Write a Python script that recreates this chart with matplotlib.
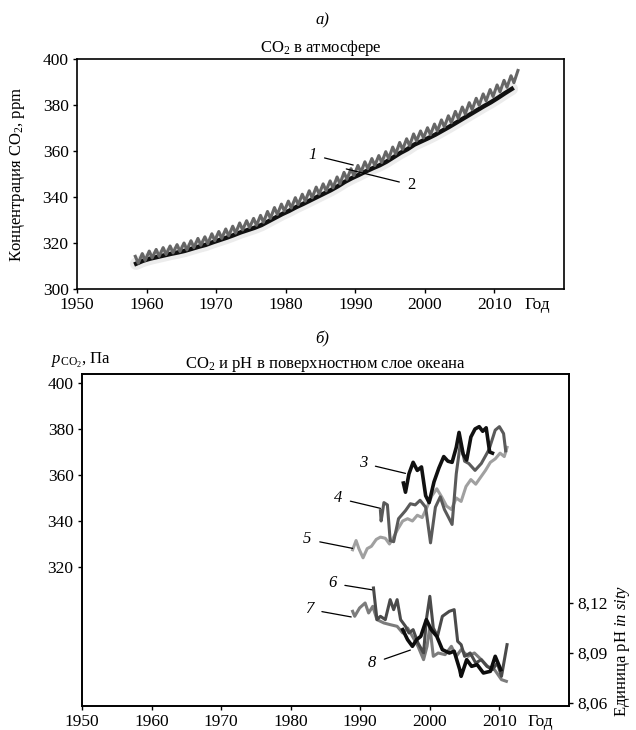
import numpy as np
import matplotlib
matplotlib.use('Agg')
import matplotlib.pyplot as plt

plt.rcParams['font.family'] = ['Liberation Serif', 'DejaVu Serif']
plt.rcParams['mathtext.fontset'] = 'custom'
plt.rcParams['mathtext.rm'] = 'Liberation Serif'
plt.rcParams['mathtext.it'] = 'Liberation Serif:italic'

# --- panel a: atmospheric CO2 (ppm) ---
years_atm = np.arange(1958, 2014)
# curve 1: seasonal highs and lows per year
co2_1_high = [314.2, 315.4, 316.5, 317.2, 318.0, 318.7, 319.3, 320.0, 321.0, 322.0,
              322.7, 324.0, 325.0, 326.1, 327.3, 328.7, 329.7, 330.7, 332.0, 333.7,
              335.4, 336.9, 338.2, 339.7, 341.2, 342.7, 344.3, 345.7, 347.0, 348.7,
              350.7, 352.3, 353.7, 355.3, 356.7, 358.0, 359.7, 361.7, 363.7, 365.3,
              367.4, 368.7, 370.1, 371.7, 373.5, 375.3, 377.2, 379.1, 381.0, 382.9,
              384.8, 386.7, 388.7, 390.7, 392.7, 395.0]
co2_1_low = [311.2, 312.4, 313.5, 314.2, 315.0, 315.7, 316.3, 317.0, 318.0, 319.0,
             319.7, 321.0, 322.0, 323.1, 324.3, 325.7, 326.7, 327.7, 329.0, 330.7,
             332.4, 333.9, 335.2, 336.7, 338.2, 339.7, 341.3, 342.7, 344.0, 345.7,
             347.7, 349.3, 350.7, 352.3, 353.7, 355.0, 356.7, 358.7, 360.7, 362.3,
             364.4, 365.7, 367.1, 368.7, 370.5, 372.3, 374.2, 376.1, 378.0, 379.9,
             381.8, 383.7, 385.7, 387.7, 389.7, 392.0]
# curve 2: annual values
years_2 = np.arange(1958, 2013)
co2_2 = [311.0, 312.3, 313.2, 313.9, 314.6, 315.3, 315.9, 316.6, 317.5, 318.4,
         319.2, 320.3, 321.3, 322.3, 323.4, 324.6, 325.6, 326.6, 327.8, 329.4,
         331.0, 332.6, 334.0, 335.6, 337.0, 338.5, 340.0, 341.5, 343.0, 344.7,
         346.6, 348.2, 349.6, 351.1, 352.5, 353.8, 355.4, 357.3, 359.2, 360.8,
         362.8, 364.2, 365.6, 367.1, 368.8, 370.5, 372.3, 374.1, 375.9, 377.7,
         379.5, 381.2, 383.1, 385.1, 387.0]

# --- panel b: ocean pCO2 (Pa) and pH ---
yr3 = [1996.2, 1996.5, 1997.0, 1997.6, 1998.2, 1998.8, 1999.4, 1999.9, 2000.6, 2001.3,
       2002.0, 2002.6, 2003.2, 2003.8, 2004.2, 2004.8, 2005.3, 2005.9, 2006.5, 2007.1,
       2007.6, 2008.1, 2008.6, 2009.0]
pco2_3 = [356.5, 352.5, 360.5, 365.5, 362.0, 363.5, 351.0, 348.0, 357.0, 363.0,
          368.0, 366.0, 365.5, 372.0, 378.5, 369.0, 366.5, 376.5, 380.0, 381.0,
          379.0, 380.5, 370.0, 369.5]
yr4 = [1992.9, 1993.0, 1993.4, 1993.9, 1994.3, 1994.8, 1995.5, 1996.5, 1997.2, 1997.9,
       1998.6, 1999.4, 2000.1, 2000.8, 2001.5, 2002.1, 2002.7, 2003.2, 2003.8, 2004.4,
       2005.0, 2005.6, 2006.5, 2007.4, 2008.5, 2009.4, 2010.0, 2010.6, 2010.9]
pco2_4 = [344.5, 340.0, 348.0, 347.0, 331.5, 331.0, 341.0, 344.5, 347.5, 347.0,
          349.0, 346.0, 330.5, 346.0, 350.5, 345.0, 341.5, 338.5, 360.5, 374.0,
          366.0, 365.0, 362.0, 365.0, 371.0, 379.5, 381.0, 378.0, 370.5]
yr5 = [1988.9, 1989.4, 1989.8, 1990.4, 1991.0, 1991.6, 1992.3, 1992.9, 1993.6, 1994.2,
       1994.8, 1995.4, 1996.1, 1996.8, 1997.5, 1998.2, 1998.9, 1999.6, 2000.3, 2001.0,
       2001.7, 2002.4, 2003.1, 2003.8, 2004.5, 2005.2, 2005.9, 2006.6, 2007.3, 2008.0,
       2008.7, 2009.4, 2010.1, 2010.7, 2011.1]
pco2_5 = [327.5, 331.5, 328.0, 324.0, 328.0, 329.0, 332.0, 333.0, 332.5, 330.0,
          333.0, 336.5, 340.0, 341.0, 340.0, 342.5, 341.5, 346.0, 351.0, 354.0,
          350.5, 346.5, 345.0, 350.0, 348.5, 355.0, 358.0, 356.0, 359.0, 362.0,
          365.5, 367.0, 369.5, 368.0, 372.0]

yr6 = [1991.9, 1992.4, 1992.9, 1993.6, 1994.3, 1994.8, 1995.3, 1995.8, 1996.5, 1997.0,
       1997.6, 1998.3, 1999.1, 1999.5, 2000.0, 2000.5, 2001.1, 2001.8, 2002.8, 2003.5,
       2004.0, 2004.5, 2005.0, 2005.8, 2006.6, 2007.4, 2008.2, 2009.0, 2009.7, 2010.3,
       2011.1]
ph_6 = [8.129, 8.110, 8.112, 8.110, 8.122, 8.116, 8.122, 8.110, 8.106, 8.102,
        8.104, 8.096, 8.090, 8.110, 8.124, 8.105, 8.100, 8.112, 8.115, 8.116,
        8.097, 8.095, 8.088, 8.090, 8.084, 8.086, 8.082, 8.080, 8.084, 8.076,
        8.095]
yr7 = [1988.9, 1989.2, 1989.9, 1990.7, 1991.2, 1991.8, 1992.4, 1993.4, 1994.3, 1995.3,
       1996.1, 1996.8, 1997.5, 1998.3, 1999.1, 1999.6, 2000.0, 2000.5, 2001.2, 2002.2,
       2003.1, 2003.8, 2004.5, 2005.5, 2006.4, 2007.4, 2008.3, 2009.3, 2010.3, 2011.0]
ph_7 = [8.115, 8.112, 8.117, 8.120, 8.114, 8.118, 8.110, 8.108, 8.107, 8.106,
        8.102, 8.105, 8.100, 8.094, 8.086, 8.094, 8.106, 8.088, 8.090, 8.089,
        8.094, 8.088, 8.092, 8.088, 8.090, 8.086, 8.082, 8.080, 8.074, 8.073]
yr8 = [1996.1, 1996.8, 1997.5, 1998.1, 1998.7, 1999.5, 2000.2, 2001.0, 2001.8, 2002.8,
       2003.5, 2004.3, 2004.5, 2005.3, 2006.0, 2006.8, 2007.7, 2008.7, 2009.4, 2010.2]
ph_8 = [8.104, 8.098, 8.094, 8.098, 8.100, 8.110, 8.104, 8.100, 8.092, 8.090,
        8.091, 8.080, 8.076, 8.086, 8.082, 8.083, 8.078, 8.079, 8.088, 8.080]

fig = plt.figure(figsize=(6.36, 7.3), dpi=100)
tick_fs = 12.5
txt_fs = 12

# ---------- top panel ----------
ax = fig.add_axes([0.1211, 0.6041, 0.7657, 0.3151])
x1 = np.column_stack([years_atm + 0.38, years_atm + 0.8]).ravel()[:-1]
y1 = np.column_stack([co2_1_high, co2_1_low]).ravel()[:-1]
ax.plot(years_2 + 0.5, co2_2, color='#ececec', lw=9, solid_capstyle='round', zorder=1)
ax.plot(years_2 + 0.5, co2_2, color='#111111', lw=3.2, zorder=2)
ax.plot(x1, y1, color='#666666', lw=2.2, zorder=3)
ax.set_xlim(1950, 2020)
ax.set_ylim(300, 400)
ax.set_xticks(range(1950, 2011, 10))
ax.set_yticks(range(300, 401, 20))
ax.tick_params(direction='out', length=3, width=1, labelsize=tick_fs, pad=3)
for s in ax.spines.values():
    s.set_linewidth(1.2)
ax.set_ylabel('Концентрация CO$_2$, ppm', fontsize=txt_fs)
ax.yaxis.set_label_coords(-0.103, 0.5)
ax.text(2016.1, -0.07, 'Год', transform=ax.get_xaxis_transform(),
        ha='center', va='center', fontsize=tick_fs)
ax.set_title('CO$_2$ в атмосфере', fontsize=txt_fs, pad=5)
fig.text(0.507, 0.972, 'а)', style='italic', ha='center', va='center', fontsize=txt_fs)

ax.annotate('1', xy=(1989.7, 353.9), xytext=(1983.8, 358.3), fontsize=txt_fs, style='italic',
            ha='center', va='center',
            arrowprops=dict(arrowstyle='-', color='black', lw=0.9, shrinkA=4, shrinkB=0))
ax.annotate('2', xy=(1988.7, 352.2), xytext=(1998.1, 345.2), fontsize=txt_fs,
            ha='center', va='center',
            arrowprops=dict(arrowstyle='-', color='black', lw=0.9, shrinkA=4, shrinkB=0))

# ---------- bottom panel ----------
axb = fig.add_axes([0.1289, 0.0329, 0.7657, 0.4548])
axb.plot(yr5, pco2_5, color='#a0a0a0', lw=2.2, zorder=2)
axb.plot(yr4, pco2_4, color='#5a5a5a', lw=2.2, zorder=3)
axb.plot(yr3, pco2_3, color='#111111', lw=2.6, zorder=4)
axb.set_xlim(1950, 2020)
axb.set_ylim(259.6, 403.9)
axb.set_xticks(range(1950, 2011, 10))
axb.set_yticks(range(320, 401, 20))
axb.tick_params(direction='out', length=3, width=1, labelsize=tick_fs, pad=3)
for s in axb.spines.values():
    s.set_linewidth(1.2)
axb.text(2015.9, -0.048, 'Год', transform=axb.get_xaxis_transform(),
         ha='center', va='center', fontsize=tick_fs)
axb.set_title('CO$_2$ и pH в поверхностном слое океана', fontsize=txt_fs, pad=2)
fig.text(0.506, 0.535, 'б)', style='italic', ha='center', va='center', fontsize=txt_fs)
fig.text(0.080, 0.506, r'$p_{\mathrm{CO_2}}$, Па', ha='left', va='center', fontsize=txt_fs)

axr = axb.twinx()
axr.plot(yr7, ph_7, color='#7c7c7c', lw=2.2, zorder=2)
axr.plot(yr6, ph_6, color='#4a4a4a', lw=2.2, zorder=3)
axr.plot(yr8, ph_8, color='#0d0d0d', lw=2.6, zorder=4)
axr.set_ylim(8.0582, 8.2574)
axr.set_yticks([8.06, 8.09, 8.12])
axr.set_yticklabels(['8,06', '8,09', '8,12'])
axr.tick_params(direction='out', length=3, width=1, labelsize=tick_fs, pad=3)
for s in axr.spines.values():
    s.set_linewidth(1.2)
fig.text(0.978, 0.108, r'Единица pH $\mathit{in\ sity}$', rotation=90,
         ha='center', va='center', fontsize=txt_fs)

lab = dict(fontsize=txt_fs, style='italic', ha='center', va='center')
arr = dict(arrowstyle='-', color='black', lw=0.9, shrinkA=4, shrinkB=0)
axb.annotate('3', xy=(1996.5, 360.7), xytext=(1990.4, 365.1), arrowprops=arr, **lab)
axb.annotate('4', xy=(1992.9, 345.5), xytext=(1986.8, 349.9), arrowprops=arr, **lab)
axb.annotate('5', xy=(1988.9, 328.1), xytext=(1982.4, 332.0), arrowprops=arr, **lab)
axb.annotate('6', xy=(1991.9, 310.0), xytext=(1986.0, 312.9), arrowprops=arr, **lab)
axb.annotate('7', xy=(1988.7, 298.3), xytext=(1982.7, 301.6), arrowprops=arr, **lab)
axb.annotate('8', xy=(1997.2, 283.9), xytext=(1991.7, 278.1), arrowprops=arr, **lab)

fig.savefig('out.png', dpi=100)
